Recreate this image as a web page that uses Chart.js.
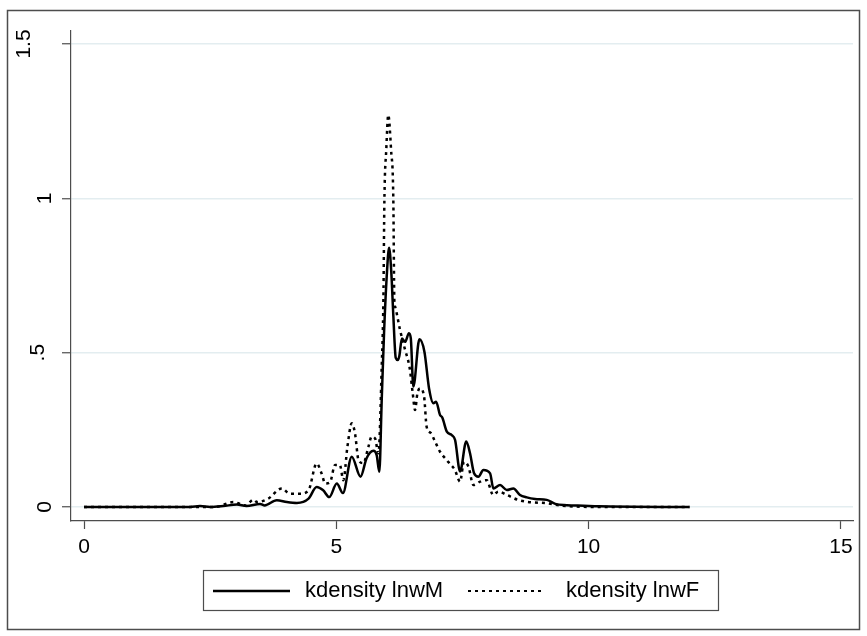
<!DOCTYPE html>
<html>
<head>
<meta charset="utf-8">
<script src="https://cdn.jsdelivr.net/npm/chart.js@4.4.1/dist/chart.umd.min.js"></script>
<style>
  body { margin: 0; background: #fff; }
  canvas { display: block; }
</style>
</head>
<body>
<canvas id="kdensity-chart" width="867" height="636"></canvas>
<script>
// kdensity lnwM (solid)
const lnwM_x = [0, 2.1, 2.3, 2.5, 2.76, 3.03, 3.22, 3.49, 3.58, 3.82, 4.02, 4.22, 4.45, 4.61, 4.74, 4.86, 5.01, 5.13, 5.306, 5.48, 5.6, 5.735, 5.8, 5.853, 5.9, 5.946, 6.0, 6.046, 6.09, 6.13, 6.178, 6.22, 6.25, 6.3, 6.363, 6.44, 6.476, 6.527, 6.647, 6.746, 6.838, 6.924, 6.977, 7.056, 7.1, 7.19, 7.288, 7.354, 7.453, 7.575, 7.65, 7.73, 7.816, 7.915, 8.048, 8.113, 8.246, 8.378, 8.51, 8.64, 8.775, 8.94, 9.17, 9.34, 9.57, 9.9, 10.2, 12.0];
const lnwM_y = [0, 0, 0.003, 0, 0.003, 0.008, 0.003, 0.01, 0.005, 0.022, 0.016, 0.013, 0.027, 0.065, 0.054, 0.032, 0.076, 0.045, 0.163, 0.098, 0.158, 0.182, 0.168, 0.114, 0.347, 0.563, 0.75, 0.84, 0.76, 0.62, 0.483, 0.476, 0.49, 0.546, 0.535, 0.563, 0.547, 0.39, 0.543, 0.503, 0.384, 0.336, 0.341, 0.298, 0.29, 0.244, 0.233, 0.217, 0.115, 0.212, 0.174, 0.109, 0.098, 0.12, 0.109, 0.06, 0.071, 0.055, 0.06, 0.039, 0.031, 0.026, 0.023, 0.01, 0.006, 0.004, 0.002, 0];

// kdensity lnwF (dotted)
const lnwF_x = [0, 2.6, 2.96, 3.2, 3.36, 3.43, 3.65, 3.92, 4.08, 4.28, 4.45, 4.61, 4.71, 4.78, 4.876, 4.975, 5.07, 5.14, 5.22, 5.306, 5.37, 5.44, 5.536, 5.636, 5.7, 5.768, 5.835, 5.9, 5.933, 5.953, 5.99, 6.03, 6.085, 6.13, 6.15, 6.165, 6.264, 6.363, 6.45, 6.515, 6.56, 6.607, 6.66, 6.74, 6.79, 6.87, 6.957, 7.056, 7.156, 7.25, 7.35, 7.453, 7.53, 7.62, 7.717, 7.85, 7.98, 8.11, 8.21, 8.38, 8.6, 8.77, 9.17, 9.44, 10.2, 12.0];
const lnwF_y = [0, 0, 0.016, 0.005, 0.024, 0.016, 0.027, 0.06, 0.043, 0.043, 0.054, 0.141, 0.108, 0.076, 0.08, 0.136, 0.136, 0.087, 0.195, 0.271, 0.239, 0.152, 0.142, 0.195, 0.228, 0.222, 0.174, 0.454, 0.67, 0.995, 1.157, 1.27, 1.157, 0.995, 0.67, 0.649, 0.573, 0.509, 0.454, 0.368, 0.314, 0.368, 0.384, 0.357, 0.26, 0.24, 0.212, 0.179, 0.158, 0.14, 0.12, 0.082, 0.147, 0.13, 0.071, 0.082, 0.087, 0.039, 0.05, 0.039, 0.023, 0.017, 0.012, 0.005, 0, 0];

const xTicks = [0, 5, 10, 15];
const yTicks = [0, 0.5, 1, 1.5];
const yTickLabels = ['0', '.5', '1', '1.5'];
const seriesLabels = ['kdensity lnwM', 'kdensity lnwF'];

const FONT = '"Liberation Sans", Arial, Helvetica, sans-serif';
const AXIS = '#4d4d4d';

const toPoints = (xs, ys) => xs.map((x, i) => ({ x: x, y: ys[i] }));

// frame, rotated y labels and the boxed legend (Stata look)
const stataFrame = {
    id: 'stataFrame',
    beforeDraw(chart) {
        const ctx = chart.ctx;
        ctx.save();
        ctx.fillStyle = '#fff';
        ctx.fillRect(0, 0, chart.width, chart.height);
        ctx.restore();
    },
    afterDraw(chart) {
        const ctx = chart.ctx;
        ctx.save();
        ctx.strokeStyle = AXIS;
        ctx.lineWidth = 1.5;
        ctx.strokeRect(7.5, 10.5, 852, 619);

        // y tick labels, vertical
        const ys = chart.scales.y;
        ctx.font = '21px ' + FONT;
        ctx.fillStyle = '#000';
        ctx.textAlign = 'center';
        ctx.textBaseline = 'alphabetic';
        yTicks.forEach((v, i) => {
            const w = ctx.measureText(yTickLabels[i]).width;
            ctx.save();
            ctx.translate(66 - 1.25 * w, ys.getPixelForValue(v));
            ctx.rotate(-Math.PI / 2);
            ctx.fillText(yTickLabels[i], 0, 0);
            ctx.restore();
        });

        // legend
        ctx.strokeStyle = AXIS;
        ctx.lineWidth = 1.2;
        ctx.strokeRect(203.5, 570.5, 515, 40);
        const ly = 591;
        ctx.font = '22px ' + FONT;
        chart.data.datasets.forEach((ds, i) => {
            const x0 = i === 0 ? 213 : 468;
            const x1 = i === 0 ? 290 : 545;
            ctx.beginPath();
            ctx.strokeStyle = ds.borderColor;
            ctx.lineWidth = i === 0 ? 2.5 : 2;
            ctx.setLineDash(ds.borderDash || []);
            ctx.moveTo(x0, ly);
            ctx.lineTo(x1, ly);
            ctx.stroke();
            ctx.setLineDash([]);
            ctx.fillStyle = '#000';
            ctx.textAlign = 'left';
            ctx.textBaseline = 'middle';
            ctx.fillText(ds.label, i === 0 ? 305 : 566, ly);
        });
        ctx.restore();
    }
};

new Chart(document.getElementById('kdensity-chart'), {
    type: 'line',
    data: {
        datasets: [
            {
                label: seriesLabels[0],
                data: toPoints(lnwM_x, lnwM_y),
                borderColor: '#000',
                borderWidth: 2.5,
                pointRadius: 0,
                cubicInterpolationMode: 'monotone',
                fill: false,
            },
            {
                label: seriesLabels[1],
                data: toPoints(lnwF_x, lnwF_y),
                borderColor: '#000',
                borderWidth: 2.5,
                borderDash: [3, 4],
                pointRadius: 0,
                cubicInterpolationMode: 'monotone',
                fill: false,
            }
        ]
    },
    options: {
        responsive: false,
        animation: false,
        layout: { padding: { top: 31, right: 14, left: 0, bottom: 0 } },
        plugins: {
            legend: { display: false },
            tooltip: { enabled: false },
        },
        scales: {
            x: {
                type: 'linear',
                min: -0.258,
                max: 15.24,
                afterBuildTicks: (s) => { s.ticks = xTicks.map(v => ({ value: v })); },
                afterFit: (s) => { s.height = 115; },
                ticks: {
                    font: { size: 21, family: FONT },
                    color: '#000',
                    padding: 6,
                    maxRotation: 0,
                    autoSkip: false,
                    callback: (v) => String(v),
                },
                grid: { drawOnChartArea: false, tickLength: 8, tickColor: AXIS, tickWidth: 1.2 },
                border: { color: AXIS, width: 1.2 },
            },
            y: {
                min: -0.0454,
                max: 1.542,
                afterBuildTicks: (s) => { s.ticks = yTicks.map(v => ({ value: v })); },
                afterFit: (s) => { s.width = 71; },
                ticks: { display: false },
                grid: { color: '#e3edf0', lineWidth: 1.5, tickLength: 9, tickColor: AXIS, tickWidth: 1.2 },
                border: { color: AXIS, width: 1.2 },
            },
        },
    },
    plugins: [stataFrame],
});
</script>
</body>
</html>
